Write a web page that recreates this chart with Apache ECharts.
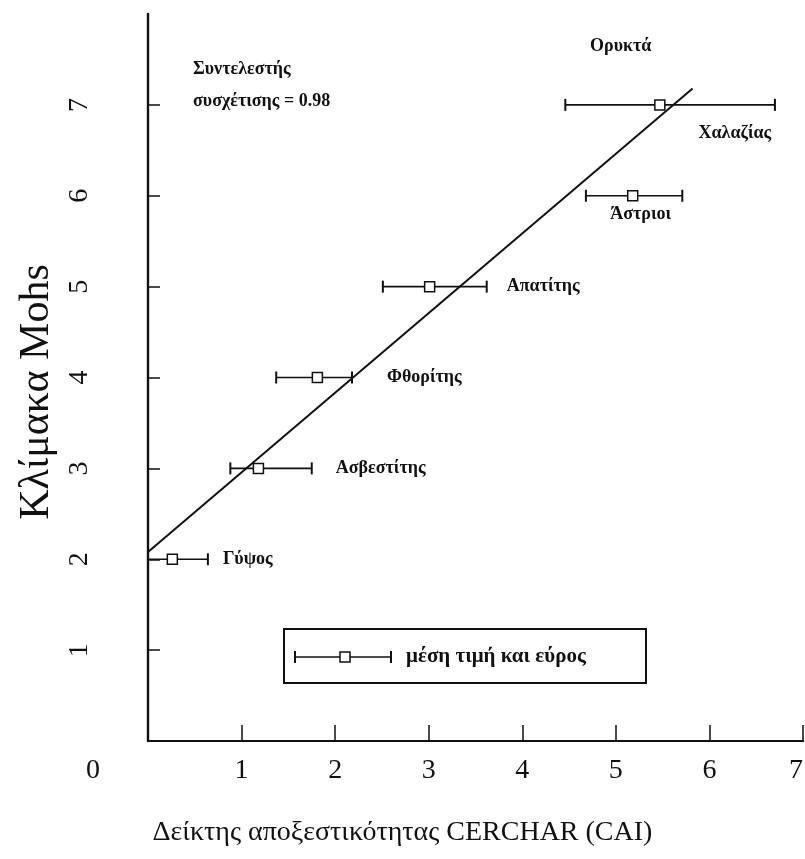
<!DOCTYPE html>
<html>
<head>
<meta charset="utf-8">
<title>Κλίμακα Mohs - CAI</title>
<script src="https://cdn.jsdelivr.net/npm/echarts@6/dist/echarts.min.js"></script>
<style>
  html, body { margin: 0; padding: 0; background: #fff; }
  #main { width: 805px; height: 859px; }
</style>
</head>
<body>
<div id="main"></div>
<script>
// ορυκτά, σκληρότητα Mohs και CAI (ελάχιστο, μέγιστο, μέση τιμή)
const minerals = ['Γύψος', 'Ασβεστίτης', 'Φθορίτης', 'Απατίτης', 'Άστριοι', 'Χαλαζίας'];
const mohs = [2, 3, 4, 5, 6, 7];
const caiMin = [0.0, 0.88, 1.37, 2.51, 4.68, 4.46];
const caiMax = [0.64, 1.75, 2.18, 3.62, 5.71, 6.70];
const caiMean = [0.26, 1.18, 1.81, 3.01, 5.18, 5.47];
// γραμμή συσχέτισης (άκρα)
const fitLine = [[0, 2.08], [5.82, 7.18]];
const xTicks = [0, 1, 2, 3, 4, 5, 6, 7];
const yTicks = [1, 2, 3, 4, 5, 6, 7];

const SERIF = "'Liberation Serif', 'DejaVu Serif', serif";
const TXT = { fontFamily: SERIF, fontWeight: 'bold', fontSize: 18, fill: '#111' };

// θέση ετικέτας κάθε ορυκτού: δεξιά από το εύρος ή κάτω από τη μέση τιμή
const labelPlace = {
    'Γύψος': { mode: 'right', dx: 15 },
    'Ασβεστίτης': { mode: 'right', dx: 24 },
    'Φθορίτης': { mode: 'right', dx: 35 },
    'Απατίτης': { mode: 'right', dx: 20 },
    'Άστριοι': { mode: 'below', dx: 8, dy: 19 },
    'Χαλαζίας': { mode: 'below', dx: 75, dy: 28 }
};

const rangeData = minerals.map((n, i) => [caiMin[i], caiMax[i], caiMean[i], mohs[i]]);

var myChart = echarts.init(document.getElementById('main'));

function whisker(x1, x2, y, mx, cap, sq) {
    return [
        { type: 'line', shape: { x1: x1, y1: y, x2: x2, y2: y }, style: { stroke: '#111', lineWidth: 1.6 } },
        { type: 'line', shape: { x1: x1, y1: y - cap, x2: x1, y2: y + cap }, style: { stroke: '#111', lineWidth: 2 } },
        { type: 'line', shape: { x1: x2, y1: y - cap, x2: x2, y2: y + cap }, style: { stroke: '#111', lineWidth: 2 } },
        { type: 'rect', shape: { x: mx - sq / 2, y: y - sq / 2, width: sq, height: sq }, style: { fill: '#fff', stroke: '#111', lineWidth: 1.5 } }
    ];
}

var option = {
    backgroundColor: '#fff',
    animation: false,
    grid: {
        left: 148,
        right: 2,
        top: 14,
        bottom: 118,
        outerBoundsMode: 'none'
    },
    xAxis: [{
        type: 'value',
        min: 0,
        max: 7,
        interval: 1,
        name: 'Δείκτης αποξεστικότητας CERCHAR (CAI)',
        nameLocation: 'middle',
        nameGap: 78,
        nameTextStyle: { fontFamily: SERIF, fontSize: 28, color: '#111', padding: [0, 146, 0, 0] },
        axisLine: { show: true, onZero: false, lineStyle: { color: '#111', width: 2 } },
        axisTick: { show: true, inside: true, length: 16, customValues: xTicks, lineStyle: { color: '#111', width: 1.5 } },
        axisLabel: {
            customValues: xTicks,
            margin: 16,
            fontFamily: SERIF,
            fontSize: 28,
            color: '#111',
            formatter: function (v) {
                if (v === 0) return '{z|0}';
                if (v === 7) return '{e|7}';
                return String(v);
            },
            rich: {
                z: { padding: [0, 110, 0, 0], fontFamily: SERIF, fontSize: 28, color: '#111' },
                e: { padding: [0, 14, 0, 0], fontFamily: SERIF, fontSize: 28, color: '#111' }
            }
        },
        splitLine: { show: false }
    }, {
        type: 'value',
        position: 'top',
        min: 0,
        max: 7,
        axisLine: { show: true, lineStyle: { color: '#111', width: 2 } },
        axisTick: { show: false },
        axisLabel: { show: false },
        splitLine: { show: false }
    }],
    yAxis: {
        type: 'value',
        min: 0,
        max: 8,
        interval: 1,
        name: 'Κλίμακα Mohs',
        nameLocation: 'middle',
        nameGap: 90,
        nameRotate: 90,
        nameTextStyle: { fontFamily: SERIF, fontSize: 42, color: '#111', padding: [0, 29, 0, 0] },
        axisLine: { show: true, lineStyle: { color: '#111', width: 2.4 } },
        axisTick: { show: true, inside: true, length: 12, customValues: yTicks, lineStyle: { color: '#111', width: 1.5 } },
        axisLabel: {
            customValues: yTicks,
            rotate: 90,
            margin: 54,
            fontFamily: SERIF,
            fontSize: 28,
            color: '#111'
        },
        splitLine: { show: false }
    },
    series: [{
        type: 'line',
        data: fitLine,
        symbol: 'none',
        z: 2,
        lineStyle: { color: '#111', width: 2 }
    }, {
        type: 'custom',
        z: 3,
        encode: { x: [0, 1, 2], y: 3 },
        renderItem: function (params, api) {
            const y = api.value(3);
            const pMin = api.coord([api.value(0), y]);
            const pMax = api.coord([api.value(1), y]);
            const pMean = api.coord([api.value(2), y]);
            const name = minerals[params.dataIndex];
            const place = labelPlace[name];
            const children = whisker(pMin[0], pMax[0], pMin[1], pMean[0], 6, 10);
            if (place.mode === 'right') {
                children.push({
                    type: 'text',
                    style: Object.assign({ text: name, x: pMax[0] + place.dx, y: pMin[1], align: 'left', verticalAlign: 'middle' }, TXT)
                });
            } else {
                children.push({
                    type: 'text',
                    style: Object.assign({ text: name, x: pMean[0] + place.dx, y: pMin[1] + place.dy, align: 'center', verticalAlign: 'middle' }, TXT)
                });
            }
            return { type: 'group', children: children };
        },
        data: rangeData
    }],
    graphic: [{
        type: 'text',
        left: 193,
        top: 53,
        style: Object.assign({ text: 'Συντελεστής\nσυσχέτισης = 0.98', lineHeight: 32 }, TXT)
    }, {
        type: 'text',
        left: 590,
        top: 37,
        style: Object.assign({ text: 'Ορυκτά' }, TXT)
    }, {
        type: 'group',
        left: 283,
        top: 628,
        children: [{
            type: 'rect',
            shape: { x: 0, y: 0, width: 362, height: 54 },
            style: { fill: '#fff', stroke: '#111', lineWidth: 2 }
        }].concat(whisker(11, 107, 28, 61, 6, 10)).concat([{
            type: 'text',
            style: Object.assign({}, TXT, { text: 'μέση τιμή και εύρος', x: 122, y: 28, verticalAlign: 'middle', fontSize: 21 })
        }])
    }]
};
myChart.setOption(option);
</script>
</body>
</html>
